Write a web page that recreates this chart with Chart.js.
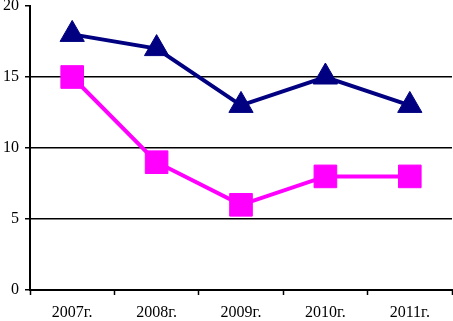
<!DOCTYPE html>
<html>
<head>
<meta charset="utf-8">
<script src="https://cdn.jsdelivr.net/npm/chart.js@4"></script>
<style>
  html, body { margin: 0; padding: 0; background: #fff; }
  #wrap { width: 453px; height: 321px; }
</style>
</head>
<body>
<div id="wrap"><canvas id="chart" width="453" height="321"></canvas></div>
<script>
const years = ['2007г.', '2008г.', '2009г.', '2010г.', '2011г.'];
const navySeries = [18, 17, 13, 15, 13];
const pinkSeries = [15, 9, 6, 8, 8];
const yTicks = [0, 5, 10, 15, 20];

const ctx = document.getElementById('chart').getContext('2d');

new Chart(ctx, {
  type: 'line',
  data: {
    labels: years,
    datasets: [
      {
        data: navySeries,
        borderColor: '#000080',
        backgroundColor: '#000080',
        borderWidth: 4,
        pointStyle: 'triangle',
        pointRadius: 14,
        pointBorderWidth: 1,
        tension: 0,
      },
      {
        data: pinkSeries,
        borderColor: '#ff00ff',
        backgroundColor: '#ff00ff',
        borderWidth: 4,
        pointStyle: 'rect',
        pointRadius: 16,
        pointBorderWidth: 1,
        tension: 0,
      },
    ],
  },
  options: {
    responsive: false,
    animation: false,
    layout: { autoPadding: false, padding: { top: 0, right: 1, left: 0, bottom: 0 } },
    plugins: { legend: { display: false }, tooltip: { enabled: false } },
    scales: {
      x: {
        offset: true,
        afterFit: s => { s.paddingRight = 0; s.paddingLeft = 0; s.height = 31; },
        grid: {
          offset: true,
          drawOnChartArea: false,
          drawTicks: true,
          tickLength: 5,
          tickColor: '#000',
          tickWidth: 1.5,
        },
        border: { color: '#000', width: 2 },
        ticks: {
          color: '#000',
          padding: 8,
          font: { family: 'Liberation Serif', size: 16 },
          maxRotation: 0,
        },
      },
      y: {
        min: 0,
        max: 20,
        afterBuildTicks: axis => { axis.ticks = yTicks.map(v => ({ value: v })); },
        afterFit: s => { s.paddingTop = 6; s.paddingBottom = 0; s.width = 30; },
        grid: {
          color: c => (c.tick && c.tick.value === 20) ? 'rgba(0,0,0,0)' : '#000',
          lineWidth: 1.5,
          tickColor: '#000',
          tickLength: 5,
          tickWidth: 1.5,
        },
        border: { color: '#000', width: 2 },
        ticks: {
          color: '#000',
          padding: 6,
          font: { family: 'Liberation Serif', size: 16 },
        },
      },
    },
  },
});
</script>
</body>
</html>
